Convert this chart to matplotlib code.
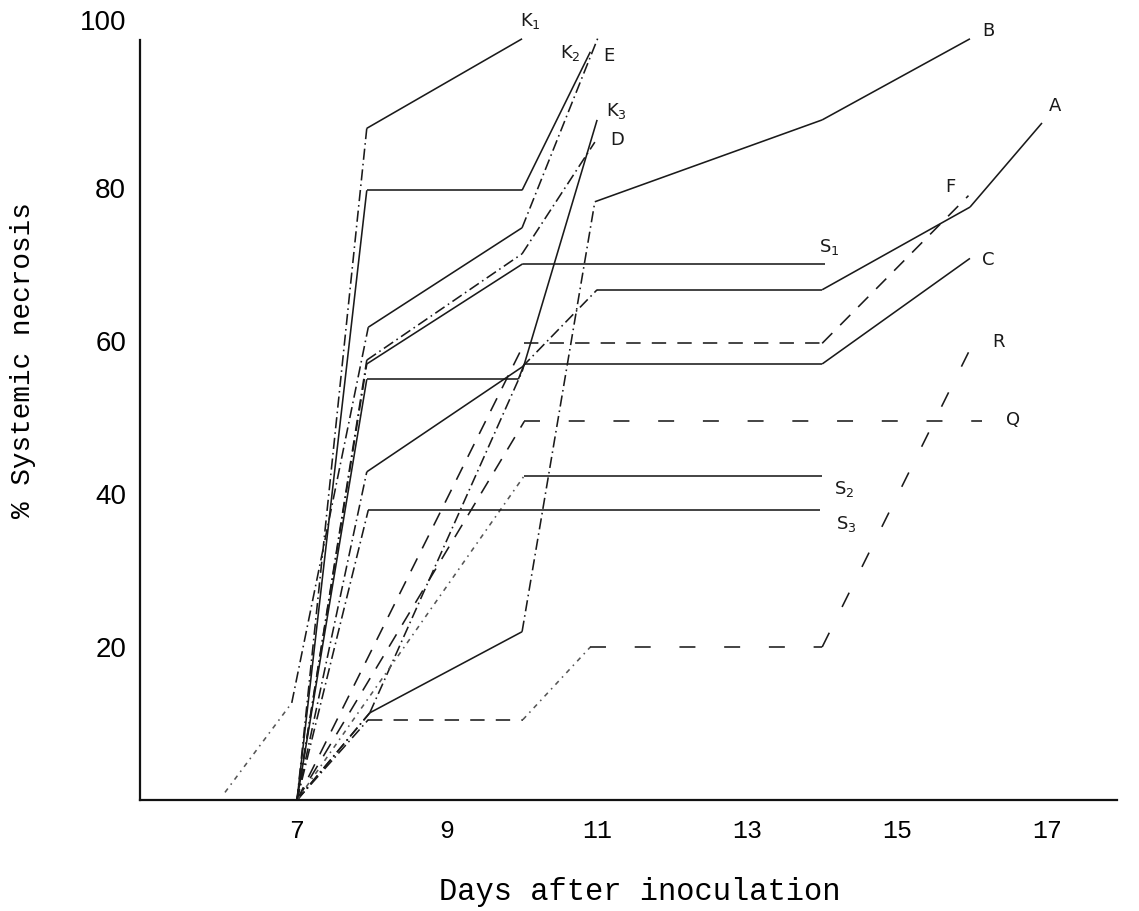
import matplotlib.pyplot as plt
import matplotlib.transforms as mtransforms

# Days after inoculation and % systemic necrosis for each isolate
k1_days = [7, 7.93, 10]
k1_pct = [0, 87.8, 99.5]

k2_days = [7, 7.93, 10, 10.91]
k2_pct = [0, 79.7, 79.7, 97.8]

e_days = [6.04, 6.93, 7.95, 10, 11.01]
e_pct = [1, 12.7, 61.8, 74.8, 99.6]

k3_days = [7, 7.97, 10, 11.0]
k3_pct = [0, 11.4, 56, 88.9]

d_days = [7, 7.93, 10, 10.97]
d_pct = [0, 57.5, 71.4, 86]

b_days = [7, 7.97, 10, 10.97, 14.0, 15.97]
b_pct = [0, 11.4, 22, 78.2, 88.9, 99.5]

a_days = [7, 7.93, 10, 11.0, 14.0, 15.97, 16.93]
a_pct = [0, 42.9, 56.6, 66.7, 66.7, 77.5, 88.5]

f_days = [7, 10.03, 14.0, 15.95]
f_pct = [0, 59.7, 59.7, 79]

s1_days = [7, 7.93, 10.01, 14.04]
s1_pct = [0, 57, 70.1, 70.1]

c_days = [7, 7.93, 9.95, 10.03, 14.0, 15.97]
c_pct = [0, 55, 55, 57, 57, 70.8]

r_days = [7, 7.95, 10.01, 10.91, 14.0, 16.0]
r_pct = [0, 10.5, 10.5, 20, 20, 59.5]

q_days = [7, 10.03, 16.13]
q_pct = [0, 49.5, 49.5]

s2_days = [7, 10.03, 14.0]
s2_pct = [0, 42.4, 42.4]

s3_days = [7, 7.95, 13.97]
s3_pct = [0, 37.9, 37.9]

x_ticks = [7, 9, 11, 13, 15, 17]
y_ticks = [20, 40, 60, 80, 100]

series = [
    ("K1", k1_days, k1_pct),
    ("K2", k2_days, k2_pct),
    ("E", e_days, e_pct),
    ("K3", k3_days, k3_pct),
    ("D", d_days, d_pct),
    ("B", b_days, b_pct),
    ("A", a_days, a_pct),
    ("F", f_days, f_pct),
    ("S1", s1_days, s1_pct),
    ("C", c_days, c_pct),
    ("R", r_days, r_pct),
    ("Q", q_days, q_pct),
    ("S2", s2_days, s2_pct),
    ("S3", s3_days, s3_pct),
]

# line style of every segment, hand drawn so it changes along a curve
seg_styles = {
    "K1": ["dt", "-"],
    "K2": ["-", "-", "-"],
    "E": ["dot", "dt", "-", "dt"],
    "K3": ["dt", "dt", "-"],
    "D": ["dt", "dt", "dt"],
    "B": ["dt", "-", "dt", "-", "-"],
    "A": ["dt", "-", "dt", "-", "-", "-"],
    "F": ["d", "d", "d"],
    "S1": ["dt", "-", "-"],
    "C": ["-", "-", "-", "-", "-"],
    "R": ["dt", "d", "dot", "ds", "ds"],
    "Q": ["d", "ds"],
    "S2": ["dot", "-"],
    "S3": ["dt", "-"],
}

dash_map = {
    "-": None,
    "dt": (7, 2.5, 1, 2.5),
    "d": (9, 7),
    "ds": (10, 18),
    "dot": (3, 3, 1, 3),
}

labels = {
    "K1": ("K$_1$", 10.11, 101.8),
    "K2": ("K$_2$", 10.64, 97.6),
    "E": ("E", 11.16, 97.3),
    "K3": ("K$_3$", 11.26, 90.0),
    "D": ("D", 11.27, 86.3),
    "B": ("B", 16.21, 100.5),
    "A": ("A", 17.11, 90.7),
    "F": ("F", 15.71, 80.1),
    "S1": ("S$_1$", 14.1, 72.3),
    "C": ("C", 16.21, 70.6),
    "R": ("R", 16.35, 59.9),
    "Q": ("Q", 16.55, 49.7),
    "S2": ("S$_2$", 14.29, 40.7),
    "S3": ("S$_3$", 14.32, 36.1),
}

fig = plt.figure(figsize=(11.39, 9.11), dpi=100)
ax = fig.add_axes([0.1229, 0.1218, 0.8578, 0.8398])

for name, days, pct in series:
    for i, st in enumerate(seg_styles[name]):
        xs = days[i:i + 2]
        ys = pct[i:i + 2]
        color = "#555555" if st == "dot" else "#1a1a1a"
        line, = ax.plot(xs, ys, color=color, lw=1.15, solid_capstyle="butt")
        if dash_map[st] is not None:
            line.set_dashes(dash_map[st])
    text, lx, ly = labels[name]
    ax.text(lx, ly, text, fontsize=13, ha="center", va="center",
            family="DejaVu Sans", color="#1a1a1a", clip_on=False)

ax.set_xlim(4.907, 17.93)
ax.set_ylim(0, 100)
ax.spines["top"].set_visible(False)
ax.spines["right"].set_visible(False)
ax.spines["left"].set_bounds(0, 99.4)
for sp in ("left", "bottom"):
    ax.spines[sp].set_linewidth(1.6)
    ax.spines[sp].set_color("#111111")

ax.set_xticks(x_ticks)
ax.set_yticks(y_ticks)
ax.tick_params(axis="both", length=0)
ax.tick_params(axis="x", pad=14)
ax.tick_params(axis="y", pad=10)
for t in ax.get_xticklabels():
    t.set_family("Liberation Mono")
    t.set_fontsize(18)
for t in ax.get_yticklabels():
    t.set_family("Liberation Sans")
    t.set_fontsize(20)

# the typed "100" sits a little above its level
top_lab = ax.get_yticklabels()[-1]
top_lab.set_transform(top_lab.get_transform()
                      + mtransforms.ScaledTranslation(0, 11 / 72, fig.dpi_scale_trans))

ax.set_xlabel("Days after inoculation", family="Liberation Mono", fontsize=22)
ax.set_ylabel("% Systemic necrosis", family="Liberation Mono", fontsize=20)
ax.xaxis.set_label_coords(0.512, -0.1)
ax.yaxis.set_label_coords(-0.1065, 0.575)

fig.savefig("out.png", dpi=100)
